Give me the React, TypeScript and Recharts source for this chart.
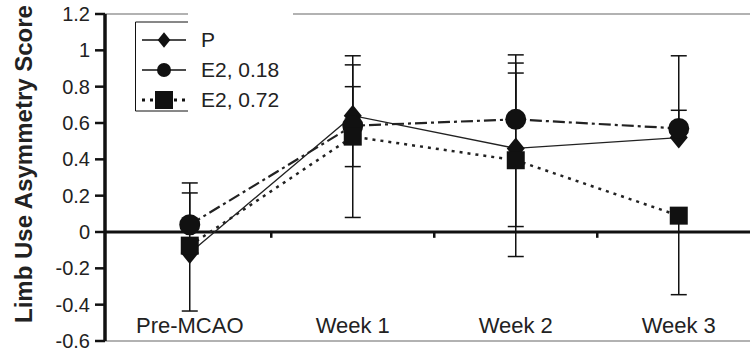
import React from "react";
import {
  LineChart,
  Line,
  XAxis,
  YAxis,
  ErrorBar,
  ReferenceLine,
  Legend,
  Label,
} from "recharts";

const categories = ["Pre-MCAO", "Week 1", "Week 2", "Week 3"];

// group means
const pMean = [-0.115, 0.64, 0.46, 0.52];
const e18Mean = [0.04, 0.585, 0.62, 0.57];
const e72Mean = [-0.075, 0.525, 0.395, 0.09];

// [lower, upper] error
const pErr = [[0.32, 0.33], [0.56, 0.33], [0.43, 0.47], [0, 0.15]];
const e18Err = [[0, 0.23], [0.225, 0.335], [0, 0.355], [0, 0.4]];
const e72Err = [[0, 0], [0, 0.275], [0.53, 0.48], [0.435, 0]];

const yTicks = [-0.6, -0.4, -0.2, 0, 0.2, 0.4, 0.6, 0.8, 1, 1.2];

const data = categories.map((name, i) => ({
  x: i,
  name,
  p: pMean[i],
  pErr: pErr[i],
  e18: e18Mean[i],
  e18Err: e18Err[i],
  e72: e72Mean[i],
  e72Err: e72Err[i],
}));

const boundaries = categories.slice(1).map((_, i) => i + 0.5);

const FONT = "'Liberation Sans', Arial, sans-serif";
const INK = "#111";

const Diamond = ({ cx, cy, s = 1 }: any) => (
  <polygon
    points={`${cx},${cy - 11 * s} ${cx + 9 * s},${cy} ${cx},${cy + 11 * s} ${cx - 9 * s},${cy}`}
    fill={INK}
  />
);
const Circle = ({ cx, cy, r = 10.5 }: any) => <circle cx={cx} cy={cy} r={r} fill={INK} />;
const Square = ({ cx, cy, h = 9 }: any) => (
  <rect x={cx - h} y={cy - h} width={h * 2} height={h * 2} fill={INK} />
);

const series = [
  { key: "p", err: "pErr", name: "P", dash: undefined, width: 1.3, Mark: Diamond },
  { key: "e18", err: "e18Err", name: "E2, 0.18", dash: "12 4 3 4", width: 2.2, Mark: Circle },
  { key: "e72", err: "e72Err", name: "E2, 0.72", dash: "3 5", width: 2.5, Mark: Square },
];

function LegendBox() {
  const rows = [40, 70, 100];
  return (
    <svg width={300} height={125} style={{ position: "absolute", left: 0, top: 0 }}>
      <rect x={188} y={6} width={105} height={112} fill="#fff" />
      <polyline points="188,22 135.5,22 135.5,111 188,111" fill="none" stroke={INK} strokeWidth={1} />
      {series.map((s, i) => {
        const y = rows[i];
        return (
          <g key={s.key}>
            <line
              x1={142}
              x2={186}
              y1={y}
              y2={y}
              stroke={INK}
              strokeWidth={i === 2 ? 3 : 1.5}
              strokeDasharray={i === 2 ? "3 5" : undefined}
            />
            {i === 0 && <Diamond cx={164} cy={y} s={0.7} />}
            {i === 1 && <Circle cx={164} cy={y} r={7} />}
            {i === 2 && <Square cx={164} cy={y} h={9} />}
            <text x={201} y={y + 7} fontSize={21} fontFamily={FONT} fill="#222">
              {s.name}
            </text>
          </g>
        );
      })}
    </svg>
  );
}

const XTick = ({ x, y, payload }: any) => (
  <text x={x} y={y - 8} textAnchor="middle" fontSize={22} fontFamily={FONT} fill="#222">
    {categories[payload.value]}
  </text>
);

export default function App() {
  return (
    <div
      style={{
        position: "absolute",
        left: 0,
        top: 0,
        width: 750,
        height: 356,
        overflow: "hidden",
        background: "#fff",
      }}
    >
      <LineChart
        width={758}
        height={356}
        data={data}
        margin={{ top: 14, right: 1, bottom: 0, left: 0 }}
      >
        <XAxis
          dataKey="x"
          type="number"
          domain={[-0.52, 3.48]}
          ticks={[0, 1, 2, 3]}
          height={15}
          tickSize={0}
          tickMargin={0}
          tickLine={false}
          axisLine={{ stroke: "#999", strokeWidth: 1.5 }}
          tick={<XTick />}
          interval={0}
        />
        <YAxis
          type="number"
          domain={[-0.6, 1.2]}
          ticks={yTicks}
          width={105}
          interval={0}
          tickSize={10}
          tickMargin={5}
          axisLine={{ stroke: INK, strokeWidth: 3.5 }}
          tickLine={{ stroke: INK, strokeWidth: 2.5 }}
          tick={{ fill: "#222", fontSize: 20, fontFamily: FONT }}
          tickFormatter={(v) => String(v)}
        >
          <Label
            content={() => (
              <text
                transform="translate(32,164) rotate(-90)"
                textAnchor="middle"
                fontSize={24}
                fontWeight="bold"
                fontFamily={FONT}
                fill="#222"
              >
                Limb Use Asymmetry Score
              </text>
            )}
          />
        </YAxis>
        <ReferenceLine y={1.2} stroke="#999" strokeWidth={1.5} />
        <ReferenceLine y={0} stroke={INK} strokeWidth={3} />
        {boundaries.map((b) => (
          <ReferenceLine
            key={b}
            segment={[
              { x: b, y: 0 },
              { x: b, y: -0.032 },
            ]}
            stroke={INK}
            strokeWidth={2.5}
            ifOverflow="visible"
          />
        ))}
        {series.map((s) => (
          <Line
            key={s.key}
            dataKey={s.key}
            name={s.name}
            stroke="#222"
            strokeWidth={s.width}
            strokeDasharray={s.dash}
            isAnimationActive={false}
            dot={(props: any) => <s.Mark key={`${s.key}-${props.index}`} cx={props.cx} cy={props.cy} />}
            activeDot={false}
          >
            <ErrorBar dataKey={s.err} direction="y" width={8} stroke={INK} strokeWidth={1.5} />
          </Line>
        ))}
        <Legend
          layout="vertical"
          align="center"
          verticalAlign="middle"
          wrapperStyle={{ left: 0, top: 0, width: 300, height: 125 }}
          content={() => <LegendBox />}
        />
      </LineChart>
    </div>
  );
}
